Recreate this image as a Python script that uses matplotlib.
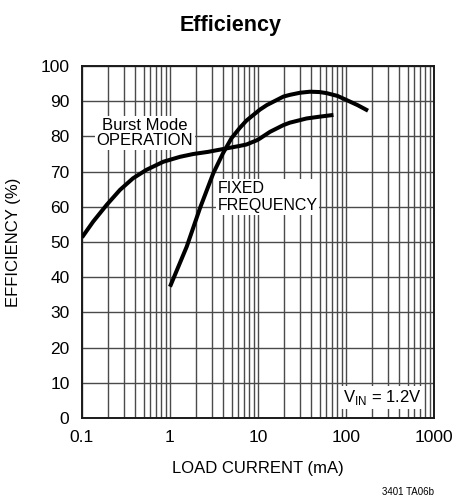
import matplotlib
matplotlib.use("Agg")
import matplotlib.pyplot as plt
from matplotlib.ticker import LogLocator, FixedLocator, NullFormatter

plt.rcParams['font.family'] = ['Liberation Sans', 'DejaVu Sans']

burst_x = [0.1, 0.134, 0.19, 0.27, 0.38, 0.54, 0.84, 1.3, 1.84, 2.7, 4.4, 6.2, 7.4, 9.7, 10.5,
           13.7, 19.4, 23, 35.7, 50, 72]
burst_y = [51.3, 55.8, 60.5, 64.8, 68.1, 70.5, 72.8, 74.2, 75.0, 75.6, 76.6, 77.3, 77.7, 78.9, 79.4,
           81.3, 83.2, 83.9, 85.1, 85.6, 86.1]

fixed_x = [1.0, 1.55, 2.19, 3.1, 4.0, 5.0, 6.2, 7.4, 10.5, 12.6, 19.4, 23, 30, 39, 50, 60, 80,
           102, 135, 178]
fixed_y = [37.3, 48.7, 59.6, 69.5, 75.2, 79.5, 82.4, 84.5, 87.6, 88.9, 91.3, 91.8, 92.4, 92.7, 92.6,
           92.3, 91.5, 90.3, 88.9, 87.3]

xticks = [0.1, 1, 10, 100, 1000]
xticklabels = ['0.1', '1', '10', '100', '1000']
yticks = list(range(0, 101, 10))

fig = plt.figure(figsize=(4.54, 4.99), dpi=100)
ax = fig.add_axes([82/454, 1-418/499, (434-82)/454, (418-66)/499])

ax.set_xscale('log')
ax.set_xlim(0.1, 1000)
ax.set_ylim(0, 100)

ax.xaxis.set_major_locator(FixedLocator(xticks))
ax.set_xticklabels(xticklabels)
ax.xaxis.set_minor_locator(LogLocator(base=10, subs=range(2, 10)))
ax.xaxis.set_minor_formatter(NullFormatter())
ax.set_yticks(yticks)

ax.grid(True, which='both', axis='x', color='#4a4a4a', linewidth=1.0)
ax.grid(True, which='major', axis='y', color='#4a4a4a', linewidth=1.0)
ax.tick_params(which='both', length=0, labelsize=12.5)
ax.tick_params(axis='x', pad=9)
ax.tick_params(axis='y', pad=9)
for s in ax.spines.values():
    s.set_linewidth(1.4)
    s.set_color('#1a1a1a')

ax.plot(burst_x, burst_y, color='black', linewidth=2.9, solid_capstyle='butt',
        solid_joinstyle='round', zorder=5)
ax.plot(fixed_x, fixed_y, color='black', linewidth=2.9, solid_capstyle='butt',
        solid_joinstyle='round', zorder=5)

ax.text(0.52, 81, 'Burst Mode\nOPERATION', ha='center', va='center', fontsize=12,
        linespacing=1.05, zorder=6,
        bbox=dict(facecolor='white', edgecolor='none', pad=1.0))
ax.text(3.45, 62.8, 'FIXED\nFREQUENCY', ha='left', va='center', fontsize=11.5,
        linespacing=1.2, zorder=6,
        bbox=dict(facecolor='white', edgecolor='none', pad=1.0))
ax.text(720, 5.8, r'V$_{\mathregular{IN}}$ = 1.2V', ha='right', va='center', fontsize=12,
        zorder=6, bbox=dict(facecolor='white', edgecolor='none', pad=1.5))

ax.set_xlabel('LOAD CURRENT (mA)', fontsize=12, labelpad=11)
ax.set_ylabel('EFFICIENCY (%)', fontsize=12, labelpad=14)

fig.text(231/454, 1-25/499, 'Efficiency', ha='center', va='center', fontsize=15.5, fontweight='bold')
fig.text(408/454, 1-492/499, '3401 TA06b', ha='center', va='center', fontsize=7)

fig.savefig('out.png', dpi=100)
